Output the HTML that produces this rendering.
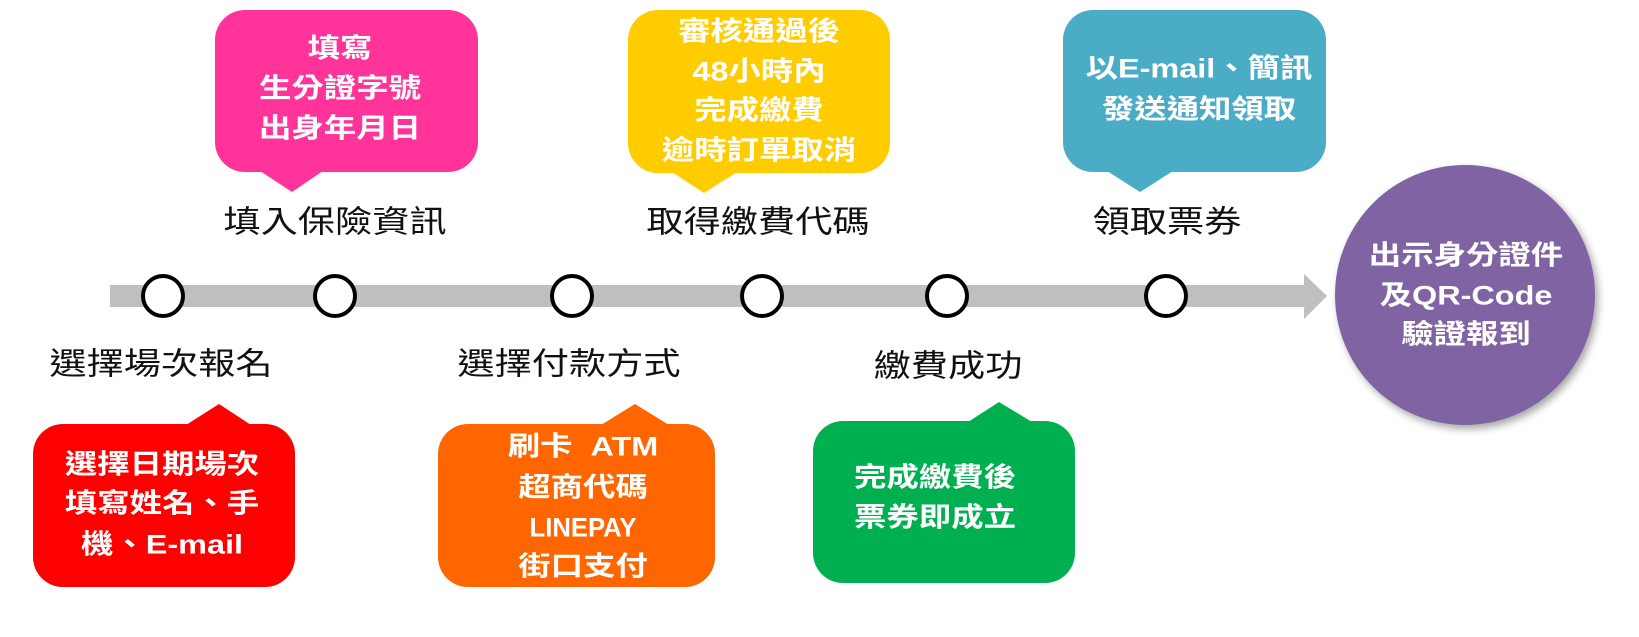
<!DOCTYPE html>
<html><head><meta charset="utf-8"><style>
body{margin:0;width:1639px;height:637px;background:#fff;overflow:hidden;position:relative;font-family:"Liberation Sans","Noto Sans CJK TC",sans-serif;}
.t{position:absolute;white-space:nowrap;transform:translate(-50%,-50%) scaleX(1.2);line-height:1;}
.n{transform:translate(-50%,-50%) scaleX(0.95);}
.w{color:#fff;font-weight:bold;font-size:27px;}
.l{color:#111;font-size:31px;}
svg{position:absolute;left:0;top:0}
</style></head><body>
<svg width="1639" height="637">
<defs><filter id="sh" x="-20%" y="-20%" width="140%" height="140%"><feDropShadow dx="3" dy="4" stdDeviation="4" flood-color="#000" flood-opacity="0.35"/></filter></defs>
<rect x="215" y="10" width="263" height="162" rx="30" fill="#ff3399"/>
<polygon points="260,171 323,171 292,192" fill="#ff3399"/>
<rect x="628" y="10" width="262" height="163" rx="30" fill="#ffcc00"/>
<polygon points="672,172 737,172 704,193" fill="#ffcc00"/>
<rect x="1063" y="10" width="263" height="162" rx="30" fill="#4bacc6"/>
<polygon points="1107,171 1173,171 1140,192" fill="#4bacc6"/>
<rect x="33" y="424" width="262" height="163" rx="30" fill="#ff0000"/>
<polygon points="186,425 251,425 219,404" fill="#ff0000"/>
<rect x="438" y="424" width="277" height="163" rx="30" fill="#ff6600"/>
<polygon points="601,425 669,425 635,404" fill="#ff6600"/>
<rect x="813" y="421" width="262" height="162" rx="30" fill="#00b050"/>
<polygon points="968,422 1032,422 999,402" fill="#00b050"/>
<rect x="110" y="285" width="1196" height="22" fill="#bfbfbf"/>
<polygon points="1304,274 1327,296 1304,319" fill="#bfbfbf"/>
<g fill="#fff" stroke="#000" stroke-width="4">
<ellipse cx="163" cy="296" rx="20" ry="20"/>
<ellipse cx="335" cy="296" rx="20" ry="20"/>
<ellipse cx="572" cy="296" rx="20" ry="20"/>
<ellipse cx="762" cy="296" rx="20" ry="20"/>
<ellipse cx="947" cy="296" rx="20" ry="20"/>
<ellipse cx="1166" cy="296" rx="20" ry="20"/>
</g>
<ellipse cx="1465" cy="295" rx="130" ry="130" fill="#8064a2" filter="url(#sh)"/>
</svg>

<div class="t w" style="left:340px;top:49px">填寫</div>
<div class="t w" style="left:340px;top:89px">生分證字號</div>
<div class="t w" style="left:340px;top:129px">出身年月日</div>

<div class="t w" style="left:759px;top:32px">審核通過後</div>
<div class="t w" style="left:759px;top:72px">48小時內</div>
<div class="t w" style="left:759px;top:111px">完成繳費</div>
<div class="t w" style="left:759px;top:151px">逾時訂單取消</div>

<div class="t w" style="left:1199px;top:69px">以E-mail、簡訊</div>
<div class="t w" style="left:1199px;top:110px">發送通知領取</div>

<div class="t w" style="left:162px;top:465px">選擇日期場次</div>
<div class="t w" style="left:162px;top:504px">填寫姓名、手</div>
<div class="t w" style="left:162px;top:545px">機、E-mail</div>

<div class="t w" style="left:583px;top:447px">刷卡&nbsp; ATM</div>
<div class="t w" style="left:583px;top:488px">超商代碼</div>
<div class="t w n" style="left:583px;top:528px">LINEPAY</div>
<div class="t w" style="left:583px;top:567px">街口支付</div>

<div class="t w" style="left:935px;top:478px">完成繳費後</div>
<div class="t w" style="left:935px;top:518px">票券即成立</div>

<div class="t w" style="left:1466px;top:256px">出示身分證件</div>
<div class="t w" style="left:1466px;top:296px">及QR-Code</div>
<div class="t w" style="left:1466px;top:335px">驗證報到</div>

<div class="t l" style="left:335px;top:222px">填入保險資訊</div>
<div class="t l" style="left:758px;top:222px">取得繳費代碼</div>
<div class="t l" style="left:1167px;top:222px">領取票券</div>
<div class="t l" style="left:161px;top:364px">選擇場次報名</div>
<div class="t l" style="left:569px;top:364px">選擇付款方式</div>
<div class="t l" style="left:948px;top:366px">繳費成功</div>
</body></html>
